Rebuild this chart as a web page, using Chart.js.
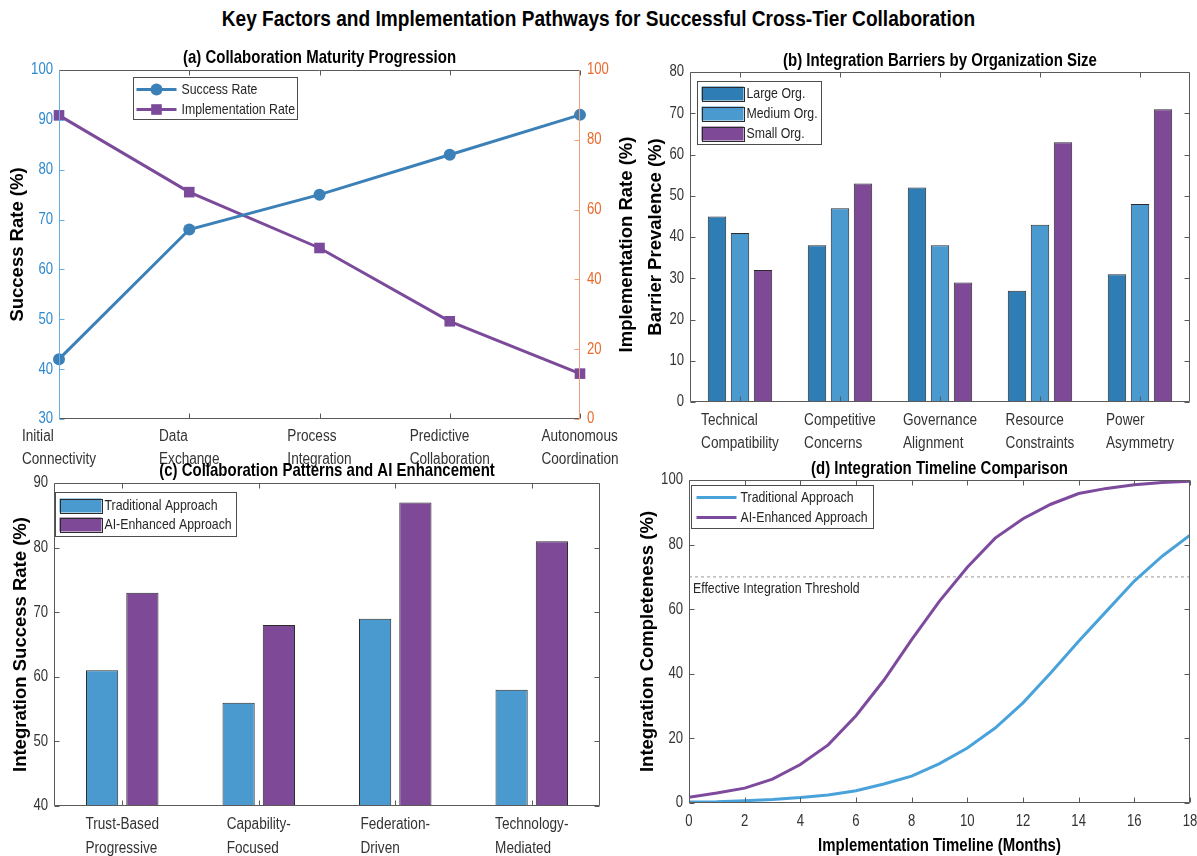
<!DOCTYPE html>
<html>
<head>
<meta charset="utf-8">
<title>Key Factors and Implementation Pathways</title>
<script src="https://cdn.jsdelivr.net/npm/chart.js@4.4.1/dist/chart.umd.min.js"></script>
<style>
    html, body { margin: 0; padding: 0; background: #ffffff; }
    body { position: relative; width: 1197px; height: 856px; overflow: hidden; }
    #mainTitle {
        position: absolute; left: 0; top: 6px; width: 1197px; text-align: center;
    }
    #mainTitle span {
        display: inline-block; transform: scaleX(0.867); transform-origin: center;
        font: bold 22px 'Liberation Sans', Arial, sans-serif; color: #000; white-space: nowrap;
    }
    canvas { position: absolute; }
</style>
</head>
<body>

<div id="mainTitle"><span>Key Factors and Implementation Pathways for Successful Cross-Tier Collaboration</span></div>

<canvas id="maturityChart" width="650" height="440" style="left:0px;top:40px"></canvas>
<canvas id="barrierChart" width="557" height="440" style="left:640px;top:40px"></canvas>
<canvas id="patternChart" width="625" height="394" style="left:0px;top:462px"></canvas>
<canvas id="timelineChart" width="567" height="401" style="left:630px;top:455px"></canvas>

<script>
/*
============================================================
Data
============================================================
*/

const maturityStages = [
    ["Initial", "Connectivity"],
    ["Data", "Exchange"],
    ["Process", "Integration"],
    ["Predictive", "Collaboration"],
    ["Autonomous", "Coordination"]
];
const successRate = [42, 68, 75, 83, 91];
const implementationRate = [87, 65, 49, 28, 13];

const barrierTypes = [
    ["Technical", "Compatibility"],
    ["Competitive", "Concerns"],
    ["Governance", "Alignment"],
    ["Resource", "Constraints"],
    ["Power", "Asymmetry"]
];
const largeOrg = [45, 38, 52, 27, 31];
const mediumOrg = [41, 47, 38, 43, 48];
const smallOrg = [32, 53, 29, 63, 71];

const patternTypes = [
    ["Trust-Based", "Progressive"],
    ["Capability-", "Focused"],
    ["Federation-", "Driven"],
    ["Technology-", "Mediated"]
];
const traditionalSuccess = [61, 56, 69, 58];
const aiSuccess = [73, 68, 87, 81];

const months = [0, 1, 2, 3, 4, 5, 6, 7, 8, 9, 10, 11, 12, 13, 14, 15, 16, 17, 18];
const traditionalTimeline = [0.3, 0.4, 0.7, 1.1, 1.7, 2.5, 3.8, 5.9, 8.3, 12.2, 17, 23.2, 31, 40.3, 50.1, 59.4, 68.7, 76.4, 82.9];
const aiTimeline = [1.8, 3.1, 4.6, 7.4, 11.9, 18, 27, 38, 50.6, 62.5, 73, 82, 88, 92.5, 95.8, 97.4, 98.5, 99.2, 99.6];
const thresholdLevel = 70;

/*
============================================================
Look
============================================================
*/

const SANS = "'Liberation Sans', Arial, sans-serif";
const SQUEEZE = 0.82;

const FRAME = "#5a5a5a";
const TEXT = "#333333";

const LINE_BLUE = "#3b81b8";
const LINE_PURPLE = "#7b4a9a";
const LARGE_BLUE = "#2f7db5";
const MEDIUM_BLUE = "#4a9ad0";
const SMALL_PURPLE = "#7e4a98";
const TRAD_LINE = "#4aa2db";
const AI_LINE = "#7e4a9e";

Chart.defaults.font.family = SANS;
Chart.defaults.color = TEXT;
Chart.defaults.animation = false;

const axisTitleFont = { family: SANS, size: 18.5, weight: "bold" };

// condensed text: the figure uses a narrow face, so squeeze horizontally
function squeezedText(ctx, text, x, y, style) {
    ctx.save();
    ctx.font = style.font;
    ctx.fillStyle = style.color || TEXT;
    ctx.textAlign = style.align || "left";
    ctx.textBaseline = "middle";
    ctx.translate(x, y);
    ctx.scale(style.squeeze || SQUEEZE, 1);
    ctx.fillText(text, 0, 0);
    ctx.restore();
}

function squeezedWidth(ctx, text, font, squeeze) {
    ctx.save();
    ctx.font = font;
    const w = ctx.measureText(text).width * (squeeze || SQUEEZE);
    ctx.restore();
    return w;
}

/*
============================================================
Plugins
============================================================
*/

// box round the plot area with inward tick marks
const framePlugin = {
    id: "frame",
    afterDatasetsDraw(chart, args, opts) {
        const { ctx, chartArea: area, scales } = chart;
        const L = Math.round(area.left) + 0.5;
        const R = Math.round(area.right) - 0.5;
        const T = Math.round(area.top) + 0.5;
        const B = Math.round(area.bottom) - 0.5;
        const len = 5;
        const base = opts.color || FRAME;
        const leftColor = opts.leftColor || base;
        const rightColor = opts.rightColor || base;

        const seg = (x1, y1, x2, y2, c) => {
            ctx.strokeStyle = c;
            ctx.beginPath();
            ctx.moveTo(x1, y1);
            ctx.lineTo(x2, y2);
            ctx.stroke();
        };

        ctx.save();
        ctx.lineWidth = 1;

        scales.x.ticks.forEach((t, i) => {
            const px = Math.round(scales.x.getPixelForTick(i)) + 0.5;
            seg(px, B, px, B - len, base);
            seg(px, T, px, T + len, base);
        });

        const yl = scales.y;
        const yr = scales.y1 || scales.y;

        yl.ticks.forEach((t, i) => {
            const py = Math.round(yl.getPixelForTick(i)) + 0.5;
            seg(L, py, L + len, py, leftColor);
        });

        yr.ticks.forEach((t, i) => {
            const py = Math.round(yr.getPixelForTick(i)) + 0.5;
            seg(R, py, R - len, py, rightColor);
        });

        seg(L, T, R, T, base);
        seg(L, B, R, B, base);
        seg(L, T, L, B, leftColor);
        seg(R, T, R, B, rightColor);

        if (opts.rightTitle) {
            ctx.save();
            ctx.translate(opts.rightTitleX, (area.top + area.bottom) / 2);
            ctx.rotate(-Math.PI / 2);
            ctx.font = `bold 18.5px ${SANS}`;
            ctx.fillStyle = "#000";
            ctx.textAlign = "center";
            ctx.textBaseline = "middle";
            ctx.fillText(opts.rightTitle, 0, 0);
            ctx.restore();
        }

        ctx.restore();
    }
};

const tickTextPlugin = {
    id: "tickText",
    afterDraw(chart, args, opts) {
        const { ctx, chartArea: area, scales } = chart;
        const font = `16px ${SANS}`;

        ["y", "y1"].forEach(id => {
            const s = scales[id];
            const o = opts[id];
            if (!s || !o) return;
            const right = s.position === "right";
            s.ticks.forEach((t, i) => {
                squeezedText(ctx, t.label, right ? area.right + o.pad : area.left - o.pad,
                    s.getPixelForTick(i), { font, color: o.color, align: right ? "left" : "right" });
            });
        });

        if (opts.x) {
            const s = scales.x;
            s.ticks.forEach((t, i) => {
                squeezedText(ctx, t.label, s.getPixelForTick(i), area.bottom + opts.x.pad,
                    { font, color: opts.x.color, align: "center" });
            });
        }

        if (opts.xTitle) {
            squeezedText(ctx, opts.xTitle.text, (area.left + area.right) / 2, area.bottom + opts.xTitle.offset,
                { font: `bold 18.5px ${SANS}`, color: "#000", align: "center", squeeze: 0.81 });
        }
    }
};

// panel title centred over the plot area
const panelTitlePlugin = {
    id: "panelTitle",
    afterDraw(chart, args, opts) {
        if (!opts.text) return;
        const { ctx, chartArea: area } = chart;
        squeezedText(ctx, opts.text, (area.left + area.right) / 2, area.top + opts.offset,
            { font: `bold 18.5px ${SANS}`, color: "#000", align: "center", squeeze: 0.81 });
    }
};

// two-line category labels, lines left aligned, block centred on the tick
const categoryLabelPlugin = {
    id: "categoryLabels",
    afterDraw(chart, args, opts) {
        if (!opts.first) return;
        const { ctx, chartArea: area, scales } = chart;
        const font = `16px ${SANS}`;
        chart.data.labels.forEach((lines, i) => {
            const px = scales.x.getPixelForValue(i);
            const w = Math.max(...lines.map(s => squeezedWidth(ctx, s, font, 0.85)));
            lines.forEach((s, k) => {
                squeezedText(ctx, s, px - w / 2, area.bottom + opts.first + k * opts.gap,
                    { font, align: "left", squeeze: 0.85 });
            });
        });
    }
};

// legend drawn inside the plot area with a box
const boxLegendPlugin = {
    id: "boxLegend",
    afterDraw(chart, args, opts) {
        if (!opts.rows) return;
        const { ctx, chartArea: area } = chart;
        const x = Math.round(area.left + opts.dx) + 0.5;
        const y = Math.round(area.top + opts.dy) + 0.5;

        ctx.save();
        ctx.fillStyle = "#ffffff";
        ctx.fillRect(x, y, opts.width, opts.height);
        ctx.strokeStyle = "#4d4d4d";
        ctx.lineWidth = 1;
        ctx.strokeRect(x, y, opts.width, opts.height);

        const items = chart.data.datasets.filter(d => !d.hideInLegend);
        items.forEach((d, i) => {
            const ry = y + opts.rows[i];
            const s0 = x + opts.sample[0];
            const s1 = x + opts.sample[1];

            if (opts.kind === "bar") {
                ctx.fillStyle = d.backgroundColor;
                ctx.fillRect(s0, ry - 7, s1 - s0, 14);
                ctx.strokeStyle = "#2b2b2b";
                ctx.lineWidth = 1;
                ctx.strokeRect(Math.round(s0) + 0.5, Math.round(ry - 7) + 0.5, s1 - s0, 14);
            } else {
                ctx.strokeStyle = d.borderColor;
                ctx.lineWidth = 3;
                ctx.beginPath();
                ctx.moveTo(s0, ry);
                ctx.lineTo(s1, ry);
                ctx.stroke();
                const mx = (s0 + s1) / 2;
                ctx.fillStyle = d.borderColor;
                if (d.pointStyle === "circle" && d.pointRadius) {
                    ctx.beginPath();
                    ctx.arc(mx, ry, d.pointRadius, 0, Math.PI * 2);
                    ctx.fill();
                } else if (d.pointStyle === "rect" && d.pointRadius) {
                    const h = d.pointRadius * Math.SQRT1_2;
                    ctx.fillRect(mx - h, ry - h, 2 * h, 2 * h);
                }
            }

            squeezedText(ctx, d.label, x + opts.textX, ry, { font: `15px ${SANS}`, color: "#262626" });
        });

        ctx.restore();
    }
};

// text note placed with data coordinates
const noteTextPlugin = {
    id: "noteText",
    afterDatasetsDraw(chart, args, opts) {
        if (!opts.text) return;
        const { ctx, scales } = chart;
        squeezedText(ctx, opts.text,
            scales.x.getPixelForValue(opts.xValue) + opts.dx,
            scales.y.getPixelForValue(opts.yValue) + opts.dy,
            { font: `15px ${SANS}`, color: "#262626" });
    }
};

Chart.register(framePlugin, tickTextPlugin, panelTitlePlugin, categoryLabelPlugin, boxLegendPlugin, noteTextPlugin);

const hiddenGrid = { display: false, drawTicks: false };
const noBorder = { display: false };
const noTicks = { display: false };

/*
============================================================
(a) Collaboration Maturity Progression
============================================================
*/

new Chart(document.getElementById("maturityChart"), {
    type: "line",
    data: {
        labels: maturityStages,
        datasets: [
            {
                label: "Success Rate",
                data: successRate,
                yAxisID: "y",
                borderColor: LINE_BLUE,
                backgroundColor: LINE_BLUE,
                borderWidth: 3,
                pointStyle: "circle",
                pointRadius: 6,
                pointBorderWidth: 0,
                pointBackgroundColor: LINE_BLUE,
                tension: 0,
                clip: false
            },
            {
                label: "Implementation Rate",
                data: implementationRate,
                yAxisID: "y1",
                borderColor: LINE_PURPLE,
                backgroundColor: LINE_PURPLE,
                borderWidth: 3,
                pointStyle: "rect",
                pointRadius: 7.5,
                pointBorderWidth: 0,
                pointBackgroundColor: LINE_PURPLE,
                tension: 0,
                clip: false
            }
        ]
    },
    options: {
        responsive: false,
        devicePixelRatio: 1,
        layout: { padding: { top: 30, left: 0, right: 0, bottom: 0 } },
        plugins: {
            legend: { display: false },
            tooltip: { enabled: false },
            panelTitle: { text: "(a) Collaboration Maturity Progression", offset: -12 },
            categoryLabels: { first: 18, gap: 23 },
            tickText: {
                y: { pad: 6, color: "#2f88cc" },
                y1: { pad: 7, color: "#e8692c" }
            },
            frame: {
                leftColor: "#63aee3",
                rightColor: "#f2a07c",
                rightTitle: "Implementation Rate (%)",
                rightTitleX: 627
            },
            boxLegend: {
                dx: 74, dy: 7, width: 164, height: 42,
                rows: [12, 32], sample: [3, 43], textX: 48, kind: "line"
            }
        },
        scales: {
            x: {
                type: "category",
                offset: false,
                ticks: noTicks,
                grid: hiddenGrid,
                border: noBorder,
                afterFit(s) { s.height = 61; }
            },
            y: {
                position: "left",
                min: 30,
                max: 100,
                ticks: { ...noTicks, stepSize: 10 },
                grid: hiddenGrid,
                border: noBorder,
                title: {
                    display: true,
                    text: "Success Rate (%)",
                    color: "#000",
                    font: axisTitleFont,
                    padding: { top: 7, bottom: 0 }
                },
                afterFit(s) { s.width = 59; }
            },
            y1: {
                position: "right",
                min: 0,
                max: 100,
                ticks: { ...noTicks, stepSize: 20 },
                grid: hiddenGrid,
                border: noBorder,
                afterFit(s) { s.width = 70; }
            }
        }
    }
});

/*
============================================================
(b) Integration Barriers by Organization Size
============================================================
*/

const barBase = {
    borderColor: "#2b2b2b",
    borderWidth: 1,
    barPercentage: 0.8,
    categoryPercentage: 0.69
};

new Chart(document.getElementById("barrierChart"), {
    type: "bar",
    data: {
        labels: barrierTypes,
        datasets: [
            { ...barBase, label: "Large Org.", data: largeOrg, backgroundColor: LARGE_BLUE },
            { ...barBase, label: "Medium Org.", data: mediumOrg, backgroundColor: MEDIUM_BLUE },
            { ...barBase, label: "Small Org.", data: smallOrg, backgroundColor: SMALL_PURPLE }
        ]
    },
    options: {
        responsive: false,
        devicePixelRatio: 1,
        layout: { padding: { top: 32, left: 0, right: 7, bottom: 0 } },
        plugins: {
            legend: { display: false },
            tooltip: { enabled: false },
            panelTitle: { text: "(b) Integration Barriers by Organization Size", offset: -11 },
            categoryLabels: { first: 19, gap: 23 },
            tickText: { y: { pad: 6 } },
            frame: {},
            boxLegend: {
                dx: 7, dy: 9, width: 124, height: 63,
                rows: [12, 32, 52], sample: [4, 46], textX: 49, kind: "bar"
            }
        },
        scales: {
            x: {
                type: "category",
                offset: true,
                ticks: noTicks,
                grid: hiddenGrid,
                border: noBorder,
                afterFit(s) { s.height = 78; }
            },
            y: {
                min: 0,
                max: 80,
                ticks: { ...noTicks, stepSize: 10 },
                grid: hiddenGrid,
                border: noBorder,
                title: {
                    display: true,
                    text: "Barrier Prevalence (%)",
                    color: "#000",
                    font: axisTitleFont,
                    padding: { top: 5, bottom: 0 }
                },
                afterFit(s) { s.width = 50; }
            }
        }
    }
});

/*
============================================================
(c) Collaboration Patterns and AI Enhancement
============================================================
*/

const pairBase = {
    borderColor: "#2b2b2b",
    borderWidth: 1,
    barPercentage: 0.8,
    categoryPercentage: 0.59
};

new Chart(document.getElementById("patternChart"), {
    type: "bar",
    data: {
        labels: patternTypes,
        datasets: [
            { ...pairBase, label: "Traditional Approach", data: traditionalSuccess, backgroundColor: MEDIUM_BLUE },
            { ...pairBase, label: "AI-Enhanced Approach", data: aiSuccess, backgroundColor: SMALL_PURPLE }
        ]
    },
    options: {
        responsive: false,
        devicePixelRatio: 1,
        layout: { padding: { top: 21, left: 0, right: 25, bottom: 0 } },
        plugins: {
            legend: { display: false },
            tooltip: { enabled: false },
            panelTitle: { text: "(c) Collaboration Patterns and AI Enhancement", offset: -12 },
            categoryLabels: { first: 19, gap: 24 },
            tickText: { y: { pad: 6 } },
            frame: {},
            boxLegend: {
                dx: 1, dy: 9, width: 181, height: 44,
                rows: [13, 32], sample: [4, 46], textX: 49, kind: "bar"
            }
        },
        scales: {
            x: {
                type: "category",
                offset: true,
                ticks: noTicks,
                grid: hiddenGrid,
                border: noBorder,
                afterFit(s) { s.height = 50; }
            },
            y: {
                min: 40,
                max: 90,
                ticks: { ...noTicks, stepSize: 10 },
                grid: hiddenGrid,
                border: noBorder,
                title: {
                    display: true,
                    text: "Integration Success Rate (%)",
                    color: "#000",
                    font: axisTitleFont,
                    padding: { top: 10, bottom: 0 }
                },
                afterFit(s) { s.width = 54; }
            }
        }
    }
});

/*
============================================================
(d) Integration Timeline Comparison
============================================================
*/

const toPoints = values => months.map((m, i) => ({ x: m, y: values[i] }));

new Chart(document.getElementById("timelineChart"), {
    type: "line",
    data: {
        datasets: [
            {
                label: "Traditional Approach",
                data: toPoints(traditionalTimeline),
                borderColor: TRAD_LINE,
                borderWidth: 3,
                pointRadius: 0,
                tension: 0
            },
            {
                label: "AI-Enhanced Approach",
                data: toPoints(aiTimeline),
                borderColor: AI_LINE,
                borderWidth: 3,
                pointRadius: 0,
                tension: 0
            },
            {
                label: "Threshold",
                hideInLegend: true,
                data: [
                    { x: months[0], y: thresholdLevel },
                    { x: months[months.length - 1], y: thresholdLevel }
                ],
                borderColor: "#9a9a9a",
                borderWidth: 1,
                borderDash: [3, 3],
                pointRadius: 0
            }
        ]
    },
    options: {
        responsive: false,
        devicePixelRatio: 1,
        layout: { padding: { top: 25, left: 0, right: 7, bottom: 0 } },
        plugins: {
            legend: { display: false },
            tooltip: { enabled: false },
            panelTitle: { text: "(d) Integration Timeline Comparison", offset: -11 },
            tickText: {
                y: { pad: 6 },
                x: { pad: 19 },
                xTitle: { text: "Implementation Timeline (Months)", offset: 43 }
            },
            frame: {},
            boxLegend: {
                dx: 2, dy: 5, width: 182, height: 43,
                rows: [12, 32], sample: [5, 45], textX: 49, kind: "line"
            },
            noteText: {
                text: "Effective Integration Threshold",
                xValue: 0, yValue: thresholdLevel, dx: 4, dy: 12
            }
        },
        scales: {
            x: {
                type: "linear",
                min: 0,
                max: 18,
                ticks: { ...noTicks, stepSize: 2 },
                grid: hiddenGrid,
                border: noBorder,
                afterFit(s) { s.height = 53; }
            },
            y: {
                min: 0,
                max: 100,
                ticks: { ...noTicks, stepSize: 20 },
                grid: hiddenGrid,
                border: noBorder,
                title: {
                    display: true,
                    text: "Integration Completeness (%)",
                    color: "#000",
                    font: axisTitleFont,
                    padding: { top: 7, bottom: 0 }
                },
                afterFit(s) { s.width = 59; }
            }
        }
    }
});
</script>
</body>
</html>
